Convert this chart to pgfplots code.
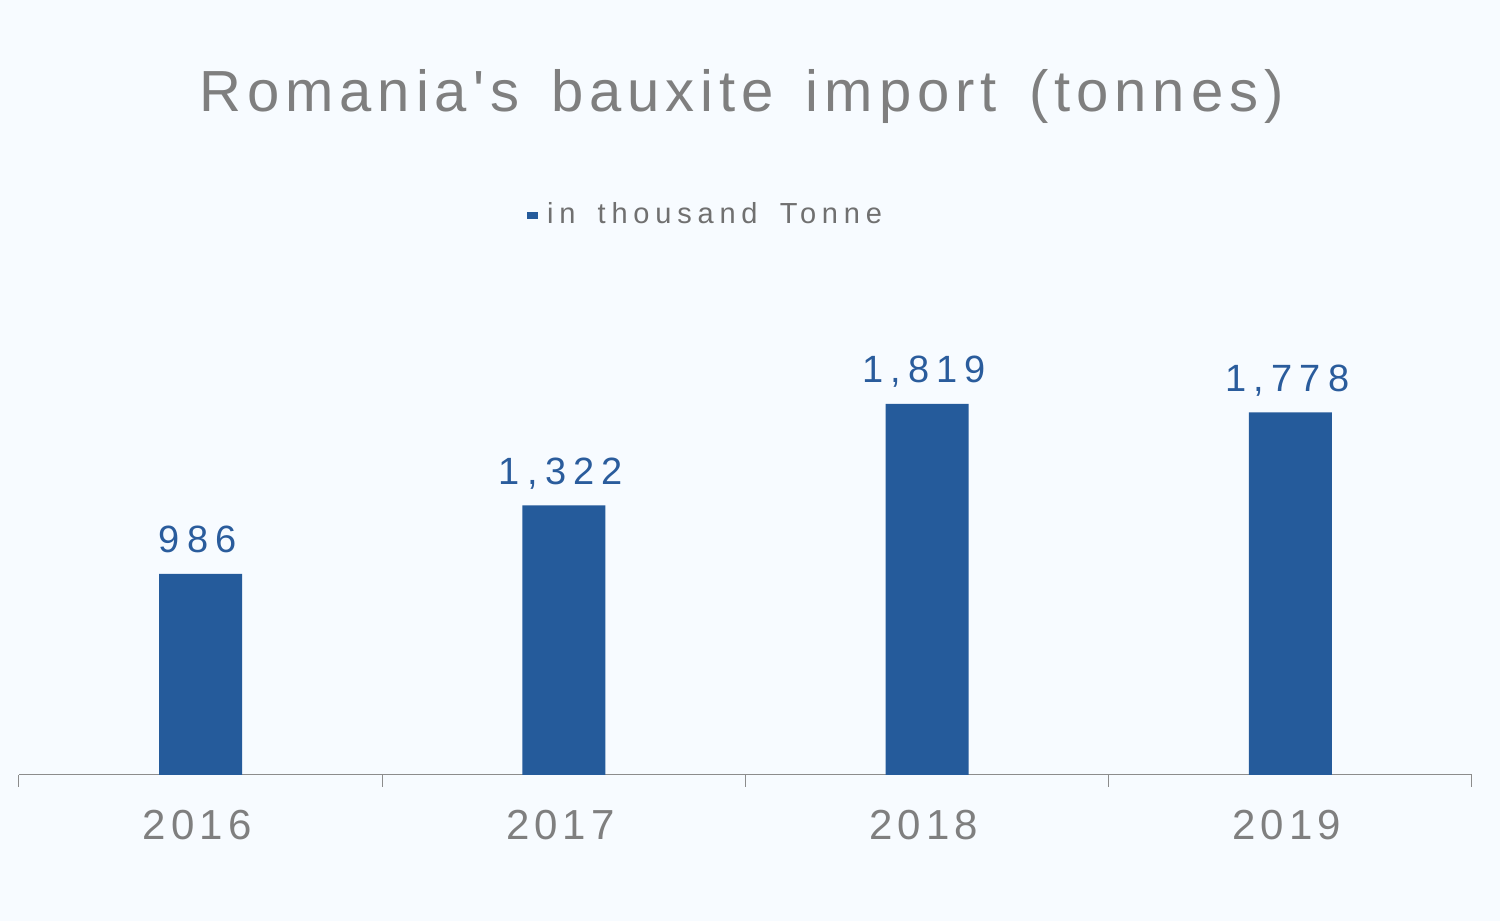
\documentclass[border=0pt]{standalone}
\usepackage{fontspec}
\setmainfont{Liberation Sans}
\usepackage{pgfplots}
\pgfplotsset{compat=1.18}

\newfontfamily\titlefont[LetterSpace=10.3,WordSpace=1.45]{Liberation Sans}
\newfontfamily\legfont[LetterSpace=20,WordSpace=1.6]{Liberation Sans}
\newfontfamily\tickfont[LetterSpace=12]{Liberation Sans}
\newfontfamily\datafont[LetterSpace=19]{Liberation Sans}

\definecolor{bg}{HTML}{F7FBFF}
\definecolor{barblue}{HTML}{255B9B}
\definecolor{labelblue}{HTML}{2A5C9C}
\definecolor{titlegray}{HTML}{7F7F7F}
\definecolor{tickgray}{HTML}{7F7F7F}
\definecolor{leggray}{HTML}{707070}
\definecolor{axisgray}{HTML}{8C8C8C}

\begin{document}
\begin{tikzpicture}
% page background, 1pt = 1px of the reference
\fill[bg] (0,0) rectangle (1500pt,921pt);
\begin{axis}[
    at={(19pt,146pt)}, anchor=south west,
    scale only axis, width=1453pt, height=408pt,
    clip=false,
    xmin=-0.5, xmax=3.5, ymin=0, ymax=2000,
    axis x line*=bottom, axis y line=none,
    x axis line style={-, draw=axisgray, line width=1pt},
    xtick={0,1,2,3}, xticklabels={2016,2017,2018,2019},
    major tick length=0pt,
    extra x ticks={-0.5,0.5,1.5,2.5,3.5}, extra x tick labels={},
    extra x tick style={major tick length=12pt, tick align=outside,
        tick style={draw=axisgray, line width=1pt}},
    xticklabel style={font=\tickfont\fontsize{42}{42}\selectfont,
        text=tickgray, anchor=base, yshift=-65pt, xshift=-3.5pt},
    ybar, bar width=83pt, bar shift=0pt,
    title={Romania's bauxite import (tonnes)},
    % the default title style already holds yshift=6pt
    title style={font=\titlefont\fontsize{58}{58}\selectfont,
        text=titlegray, at={(0.5,1.625)}, anchor=base, yshift=-6pt, xshift=-4pt},
    legend style={at={(0.3496,1.376)}, anchor=west, draw=none, fill=none,
        inner xsep=0pt, font=\legfont\fontsize{29}{29}\selectfont, text=leggray},
    /pgf/number format/fixed, /pgf/number format/precision=0,
    /pgf/number format/1000 sep={,},
    /pgf/number format/assume math mode=true,
    nodes near coords,
    nodes near coords style={font=\datafont\fontsize{38}{38}\selectfont,
        text=labelblue, anchor=base, yshift=21pt, xshift=-3pt},
]
\addplot[fill=barblue, draw=none,
    legend image code/.code={\fill[barblue] (-2pt,-5.8pt) rectangle (9pt,1.7pt);
        \path (16pt,0pt);}]
    coordinates {(0,986) (1,1322) (2,1819) (3,1778)};
\addlegendentry{in thousand Tonne}
\end{axis}
\end{tikzpicture}
\end{document}
